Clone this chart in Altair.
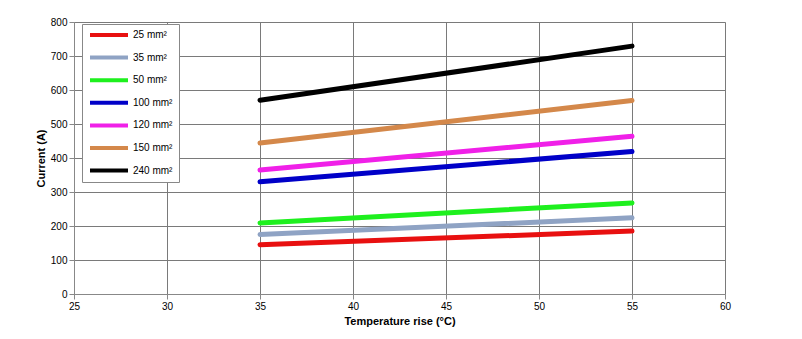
import altair as alt
import pandas as pd

series = ["25 mm²", "35 mm²", "50 mm²", "100 mm²", "120 mm²", "150 mm²", "240 mm²"]
colors = ["#e81010", "#8fa3c4", "#1ef01e", "#0000c8", "#f020e8", "#d4884a", "#000000"]
temps = [35, 55]
current_35 = [145, 175, 209, 330, 365, 444, 570]
current_55 = [185, 224, 268, 419, 464, 569, 729]

rows = []
for i, s in enumerate(series):
    rows.append({"series": s, "order": i, "temp": temps[0], "current": current_35[i]})
    rows.append({"series": s, "order": i, "temp": temps[1], "current": current_55[i]})
df = pd.DataFrame(rows)

grid_kw = dict(gridColor="#7a7a7a", gridOpacity=1, gridWidth=1, labelFlush=False)

chart = alt.Chart(df).mark_line(strokeWidth=5, strokeCap="round").encode(
    x=alt.X("temp:Q", title="Temperature rise (°C)",
            scale=alt.Scale(domain=[25, 60], nice=False, zero=False),
            axis=alt.Axis(values=[25, 30, 35, 40, 45, 50, 55, 60], **grid_kw)),
    y=alt.Y("current:Q", title="Current (A)",
            scale=alt.Scale(domain=[0, 800], nice=False),
            axis=alt.Axis(values=[0, 100, 200, 300, 400, 500, 600, 700, 800], **grid_kw)),
    color=alt.Color("series:N", sort=series,
                    scale=alt.Scale(domain=series, range=colors),
                    legend=alt.Legend(title=None, orient="none", legendX=8, legendY=2,
                                      symbolType="stroke", symbolStrokeWidth=4,
                                      symbolSize=1444, labelFontSize=10,
                                      labelFont="Liberation Sans", labelColor="#000",
                                      clipHeight=10, rowPadding=12.6, padding=6, labelOffset=3,
                                      strokeColor="#888", fillColor="white",
                                      cornerRadius=0)),
    detail="series:N",
).properties(
    width=651, height=272,
    padding={"left": 74, "top": 22, "right": 77, "bottom": 45},
    autosize=alt.AutoSizeParams(type="none"),
).configure_axis(
    labelFont="Liberation Sans", labelFontSize=11, labelColor="#000",
    titleFont="Liberation Sans", titleFontSize=11, titleFontWeight="bold", titleColor="#000",
    domainColor="#000", domainWidth=1.5, tickColor="#000", tickSize=4,
).configure_axisY(
    titlePadding=20,
).configure_axisX(
    titlePadding=8, labelPadding=9,
).configure_view(
    stroke="#c8c8c8", strokeWidth=1.5,
).configure(background="white")

chart.save("out.html", embed_options={"renderer": "svg", "actions": False})
